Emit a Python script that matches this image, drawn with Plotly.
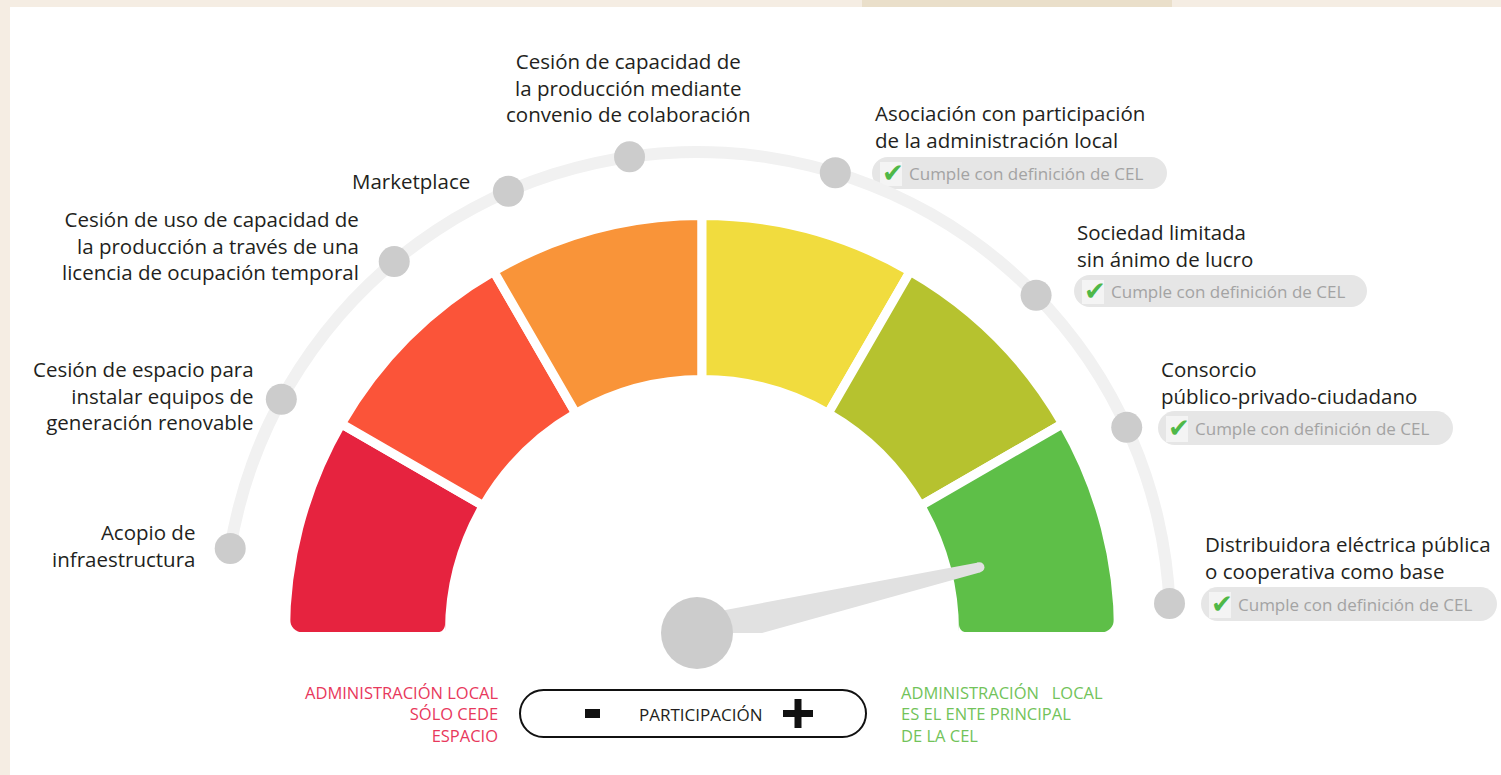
import numpy as np
import plotly.graph_objects as go

W, H = 1501, 775

# ---------------- data ----------------
segment_colors = ["#e6233f", "#fb5439", "#f99439", "#f1dc3e", "#b6c22f", "#5ebf48"]
segment_share = [1, 1, 1, 1, 1, 1]

model_labels = [
    "Acopio de<br>infraestructura",
    "Cesión de espacio para<br>instalar equipos de<br>generación renovable",
    "Cesión de uso de capacidad de<br>la producción a través de una<br>licencia de ocupación temporal",
    "Marketplace",
    "Cesión de capacidad de<br>la producción mediante<br>convenio de colaboración",
    "Asociación con participación<br>de la administración local",
    "Sociedad limitada<br>sin ánimo de lucro",
    "Consorcio<br>público-privado-ciudadano",
    "Distribuidora eléctrica pública<br>o cooperativa como base",
]
model_theta = [170.7, 151.5, 129.8, 113.5, 98.2, 73.0, 44.2, 24.7, 2.6]
model_cumple = [False, False, False, False, False, True, True, True, True]
cumple_text = "Cumple con definición de CEL"

needle_deg = 13.1

left_caption = "ADMINISTRACIÓN LOCAL<br>SÓLO CEDE<br>ESPACIO"
right_caption = "ADMINISTRACIÓN\u00a0\u00a0\u00a0LOCAL<br>ES EL ENTE PRINCIPAL<br>DE LA CEL"
axis_caption = "PARTICIPACIÓN"

# ---------------- layout helpers ----------------
def X(px):
    return px / W

def Y(py):
    return 1 - py / H

def polar_domain(cx, cy, rad, sector):
    s0, s1 = sector
    angs = [s0, s1] + [k * 90 for k in range(-4, 9) if s0 <= k * 90 <= s1]
    xs = [0] + [np.cos(np.radians(a)) for a in angs]
    ys = [0] + [np.sin(np.radians(a)) for a in angs]
    x0 = cx + rad * min(xs)
    x1 = cx + rad * max(xs)
    ytop = cy - rad * max(ys)
    ybot = cy - rad * min(ys)
    return dict(x=[X(x0), X(x1)], y=[Y(ybot), Y(ytop)])

def rrect(x0, y0, x1, y1, r):
    k = 0.5523 * r
    p = [
        f"M {X(x0 + r)},{Y(y0)}",
        f"L {X(x1 - r)},{Y(y0)}",
        f"C {X(x1 - r + k)},{Y(y0)} {X(x1)},{Y(y0 + r - k)} {X(x1)},{Y(y0 + r)}",
        f"L {X(x1)},{Y(y1 - r)}",
        f"C {X(x1)},{Y(y1 - r + k)} {X(x1 - r + k)},{Y(y1)} {X(x1 - r)},{Y(y1)}",
        f"L {X(x0 + r)},{Y(y1)}",
        f"C {X(x0 + r - k)},{Y(y1)} {X(x0)},{Y(y1 - r + k)} {X(x0)},{Y(y1 - r)}",
        f"L {X(x0)},{Y(y0 + r)}",
        f"C {X(x0)},{Y(y0 + r - k)} {X(x0 + r - k)},{Y(y0)} {X(x0 + r)},{Y(y0)}",
        "Z",
    ]
    return " ".join(p)

def corner_mask(x, y, r, side):
    # bottom corner at (x, y); side=+1 -> shape extends to the right, -1 -> to the left
    k = 0.5523 * r
    return (f"M {X(x)},{Y(y)} L {X(x)},{Y(y - r)} "
            f"C {X(x)},{Y(y - r + k)} {X(x + side * (r - k))},{Y(y)} {X(x + side * r)},{Y(y)} Z")

FONT = "Open Sans"
TXT = "#231f20"

fig = go.Figure()

# ---- gauge segments (polar) ----
G_CX, G_CY, G_R = 702, 632, 500
R_IN, R_OUT, GAP = 257, 412, 9
tot = sum(segment_share)
edges = np.concatenate([[0], np.cumsum(segment_share)]) / tot * 180
centers = [180 - (edges[i] + edges[i + 1]) / 2 for i in range(len(segment_share))]
widths = [(edges[i + 1] - edges[i]) for i in range(len(segment_share))]
widths[0] += 1
widths[-1] += 1
centers[0] += 0.5
centers[-1] -= 0.5
fig.add_trace(go.Barpolar(
    r=[R_OUT - R_IN + GAP] * len(segment_share), base=R_IN - GAP / 2, theta=centers, width=widths,
    marker=dict(color=segment_colors, line=dict(color="white", width=GAP)),
    subplot="polar", hoverinfo="skip", showlegend=False))

# ---- arc with model dots (polar2) ----
A_CX, A_CY, A_R = 697, 625, 500
RING_R = 473
t0, t1 = min(model_theta), max(model_theta)
fig.add_trace(go.Barpolar(
    r=[12], base=RING_R - 6, theta=[(t0 + t1) / 2], width=[t1 - t0],
    marker=dict(color="#f1f1f1", line=dict(width=0)),
    subplot="polar2", hoverinfo="skip", showlegend=False))
fig.add_trace(go.Scatterpolar(
    r=[RING_R] * len(model_theta), theta=model_theta, mode="markers",
    marker=dict(size=31, color="#cccccc"), cliponaxis=False,
    subplot="polar2", hoverinfo="skip", showlegend=False))

# ---- needle (polar3) ----
N_CX, N_CY, N_R = 697, 633, 400
L = 290
base_a, base_p, tip_p = 10, 17, 5
r_base = float(np.hypot(base_a, base_p))
d_base = float(np.degrees(np.arctan2(base_p, base_a)))
r_tip = float(np.hypot(L, tip_p))
d_tip = float(np.degrees(np.arctan2(tip_p, L)))
fig.add_trace(go.Scatterpolar(
    r=[r_tip, r_base, r_base, r_tip],
    theta=[needle_deg + d_tip, needle_deg + d_base, needle_deg - d_base, needle_deg - d_tip],
    mode="lines", fill="toself", fillcolor="#e1e1e1", line=dict(width=0, color="#e1e1e1"),
    cliponaxis=False, subplot="polar3", hoverinfo="skip", showlegend=False))
fig.add_trace(go.Scatterpolar(
    r=[L], theta=[needle_deg], mode="markers", marker=dict(size=2 * tip_p, color="#e1e1e1"),
    cliponaxis=False, subplot="polar3", hoverinfo="skip", showlegend=False))
fig.add_trace(go.Scatterpolar(
    r=[0], theta=[0], mode="markers", marker=dict(size=72, color="#cccccc"),
    cliponaxis=False, subplot="polar3", hoverinfo="skip", showlegend=False))

fig.update_layout(
    width=W, height=H, margin=dict(l=0, r=0, t=0, b=0),
    paper_bgcolor="white", plot_bgcolor="white", showlegend=False,
    polar=dict(domain=polar_domain(G_CX, G_CY, G_R, [0, 180]), sector=[0, 180],
               bgcolor="rgba(0,0,0,0)", hole=0,
               radialaxis=dict(range=[0, G_R], autorange=False, visible=False),
               angularaxis=dict(visible=False)),
    polar2=dict(domain=polar_domain(A_CX, A_CY, A_R, [0, 180]), sector=[0, 180],
                bgcolor="rgba(0,0,0,0)",
                radialaxis=dict(range=[0, A_R], autorange=False, visible=False),
                angularaxis=dict(visible=False)),
    polar3=dict(domain=polar_domain(N_CX, N_CY, N_R, [0, 180]), sector=[0, 180],
                bgcolor="rgba(0,0,0,0)",
                radialaxis=dict(range=[0, N_R], autorange=False, visible=False),
                angularaxis=dict(visible=False)),
)

shapes = []
# beige frame
shapes.append(dict(type="rect", xref="paper", yref="paper", x0=0, x1=X(10), y0=0, y1=1,
                   fillcolor="#f5ede3", line=dict(width=0), layer="below"))
shapes.append(dict(type="rect", xref="paper", yref="paper", x0=0, x1=1, y0=Y(7), y1=1,
                   fillcolor="#f5ede3", line=dict(width=0), layer="below"))
shapes.append(dict(type="rect", xref="paper", yref="paper", x0=X(862), x1=X(1172), y0=Y(7), y1=1,
                   fillcolor="#eadfca", line=dict(width=0), layer="below"))

# rounded bottom corners of the gauge ends
for cx_, side, rr in [(G_CX - R_OUT, +1, 13), (G_CX - R_IN, -1, 8),
                      (G_CX + R_IN, +1, 8), (G_CX + R_OUT, -1, 13)]:
    shapes.append(dict(type="path", xref="paper", yref="paper", path=corner_mask(cx_, G_CY + 0.5, rr, side),
                       fillcolor="white", line=dict(width=0), layer="above"))

annotations = []
# label placement (layout)
label_pos = [
    (197, 545, "right"),
    (256, 395, "right"),
    (361, 246, "right"),
    (472, 181, "right"),
    (628, 87, "center"),
    (873, 127, "left"),
    (1075, 245, "left"),
    (1159, 382, "left"),
    (1203, 557, "left"),
]
for lab, (lx, ly, anc) in zip(model_labels, label_pos):
    annotations.append(dict(xref="paper", yref="paper", x=X(lx), y=Y(ly), text=lab,
                            xanchor=anc, yanchor="middle", align=anc, showarrow=False,
                            font=dict(family=FONT, size=20.5, color=TXT)))

# "cumple" badges
badge_boxes = [(872, 157, 1167, 189), (1074, 275, 1367, 307), (1158, 411, 1453, 445), (1201, 587, 1497, 621)]
for (bx0, by0, bx1, by1), ok in zip(badge_boxes, [c for c in model_cumple if c]):
    shapes.append(dict(type="path", xref="paper", yref="paper", path=rrect(bx0, by0, bx1, by1, (by1 - by0) / 2),
                       fillcolor="#e6e6e6", line=dict(width=0), layer="below"))
    shapes.append(dict(type="rect", xref="paper", yref="paper", x0=X(bx0 + 8), x1=X(bx0 + 30),
                       y0=Y(by1 - 3), y1=Y(by0 + 5), fillcolor="#f4f4f4", line=dict(width=0), layer="below"))
    annotations.append(dict(xref="paper", yref="paper", x=X(bx0 + 21), y=Y((by0 + by1) / 2), text="✔",
                            xanchor="center", yanchor="middle", showarrow=False,
                            font=dict(family="DejaVu Sans", size=26, color="#4fb848")))
    annotations.append(dict(xref="paper", yref="paper", x=X(bx0 + 35), y=Y((by0 + by1) / 2), text=cumple_text,
                            xanchor="left", yanchor="middle", showarrow=False,
                            font=dict(family=FONT, size=17, color="#a3a3a3")))

# participation pill
shapes.append(dict(type="path", xref="paper", yref="paper", path=rrect(520, 690, 866, 737, 23.5),
                   fillcolor="white", line=dict(width=2, color="#111111")))
shapes.append(dict(type="rect", xref="paper", yref="paper", x0=X(585), x1=X(600), y0=Y(718), y1=Y(709),
                   fillcolor="#111111", line=dict(width=0)))
shapes.append(dict(type="rect", xref="paper", yref="paper", x0=X(783), x1=X(813), y0=Y(717), y1=Y(710),
                   fillcolor="#111111", line=dict(width=0)))
shapes.append(dict(type="rect", xref="paper", yref="paper", x0=X(794.5), x1=X(801.5), y0=Y(728), y1=Y(699),
                   fillcolor="#111111", line=dict(width=0)))
annotations.append(dict(xref="paper", yref="paper", x=X(701), y=Y(714), text=axis_caption,
                        xanchor="center", yanchor="middle", showarrow=False,
                        font=dict(family=FONT, size=17, color=TXT)))
annotations.append(dict(xref="paper", yref="paper", x=X(500), y=Y(714), text=left_caption,
                        xanchor="right", yanchor="middle", align="right", showarrow=False,
                        font=dict(family=FONT, size=16.5, color="#e8385c")))
annotations.append(dict(xref="paper", yref="paper", x=X(899), y=Y(714), text=right_caption,
                        xanchor="left", yanchor="middle", align="left", showarrow=False,
                        font=dict(family=FONT, size=16.5, color="#72c35a")))

fig.update_layout(shapes=shapes, annotations=annotations)

fig.write_html("out.html", config={"displayModeBar": False},
               post_script="document.body.style.margin='0';document.body.style.overflow='hidden';")
